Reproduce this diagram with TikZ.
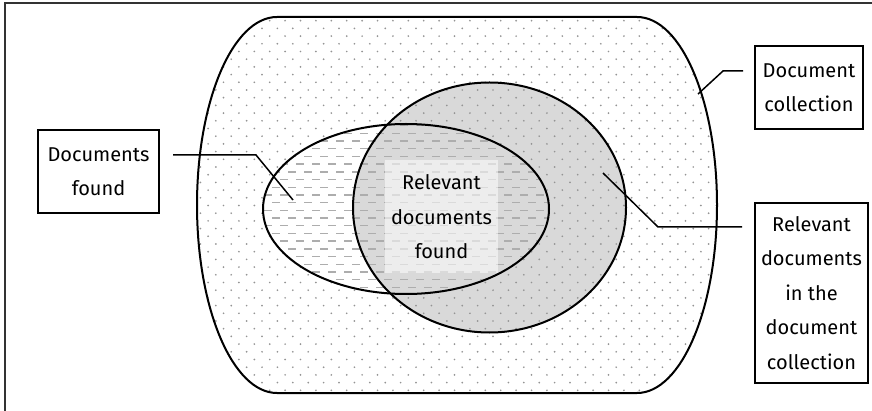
\documentclass[tikz,border=0pt]{standalone}
\usepackage{fontspec}
\setmainfont{Fira Sans}
\newcommand{\collshapepath}{(277,17) -- (637,17) .. controls (681.2,17) and (717,101.2) .. (717,205)
  .. controls (717,308.8) and (681.2,393) .. (637,393) -- (277,393)
  .. controls (232.8,393) and (197,308.8) .. (197,205)
  .. controls (197,101.2) and (232.8,17) .. (277,17) -- cycle}
\newcommand{\foundshapepath}{(406,209) ellipse[x radius=143,y radius=85]}
\tikzset{
  shapeline/.style={draw=black, line width=2pt},
  labelbox/.style={draw=black, line width=1.7pt, fill=white, align=center, inner sep=0pt,
    font=\fontsize{20}{34.5}\selectfont},
  leader/.style={draw=black, line width=1.5pt},
  dotfill/.style={fill=black!42},
  dashfill/.style={fill=black!32},
}
\begin{document}
\begin{tikzpicture}[x=1pt,y=-1pt]
\useasboundingbox (0,0) rectangle (872,411);
\fill[white] (0,0) rectangle (872,411);
% outer frame (right and bottom edges fall outside the picture)
\draw[line width=2pt, draw=black!80] (5,3) rectangle (885,425);
% relevant set (grey stipple)
\fill[black!15] (489.5,207.5) ellipse[x radius=136.5,y radius=125];
% dots over collection, outside the found set
\begin{scope}[even odd rule]
  \clip \collshapepath \foundshapepath;
  \foreach \r in {0,...,50} {
    \foreach \c in {0,...,35} {
      \fill[dotfill] ({185+\c*15.4+mod(\r,2)*7.7},{13+\r*7.7}) circle[radius=0.95pt];
    }
  }
\end{scope}
% found set (dashes)
\begin{scope}
  \clip \foundshapepath;
  \foreach \r in {0,...,23} {
    \foreach \c in {0,...,19} {
      \fill[dashfill] ({256+\c*16+mod(\r,2)*8},{125+\r*7.7}) rectangle ++(8,1.4);
    }
  }
\end{scope}
% light background behind central text
\fill[white, opacity=0.55] (385,160) rectangle (498,273);
% outlines
\draw[shapeline] \collshapepath;
\draw[shapeline] (489.5,207.5) ellipse[x radius=136.5,y radius=125];
\draw[shapeline] \foundshapepath;
% labels
\node[font=\fontsize{20}{34.5}\selectfont, align=center] (centre) at (441.5,217) {Relevant\\documents\\found};
\node[labelbox, minimum width=121pt, minimum height=83pt] (found) at (98.5,171.5) {Documents\\found};
\node[labelbox, minimum width=108pt, minimum height=83pt] (coll) at (809,87.5) {Document\\collection};
\node[labelbox, minimum width=113pt, minimum height=180pt] (rel) at (811.5,293) {Relevant\\documents\\in the\\document\\collection};
% leader lines
\coordinate (foundS) at (173,155);
\coordinate (foundK) at (256,155);
\coordinate (foundE) at (293,200);
\coordinate (collS) at (743,71);
\coordinate (collK) at (723,71);
\coordinate (collE) at (698,94);
\coordinate (relS) at (742,227);
\coordinate (relK) at (658,227);
\coordinate (relE) at (603,173);
\draw[leader] (foundS) -- (foundK) -- (foundE);
\draw[leader] (collS) -- (collK) -- (collE);
\draw[leader] (relS) -- (relK) -- (relE);
\end{tikzpicture}
\end{document}
